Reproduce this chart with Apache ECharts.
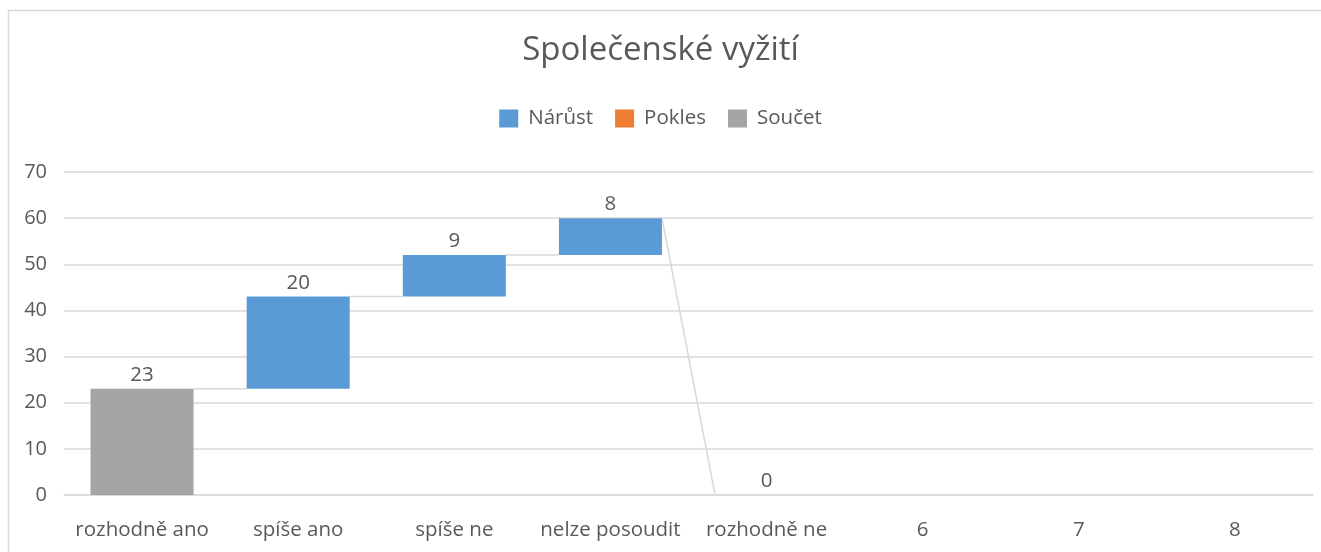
<html>
<head>
<meta charset="utf-8"/>
<title>Společenské vyžití</title>
<script src="https://cdn.jsdelivr.net/npm/echarts@6/dist/echarts.min.js"></script>
<style>
  body { margin: 0; background: #fff; overflow: hidden; }
  #main { width: 1321px; height: 552px; }
</style>
</head>
<body>
<div id="main"></div>
<script type="text/javascript">
// data
var categories = ['rozhodně ano', 'spíše ano', 'spíše ne', 'nelze posoudit', 'rozhodně ne', '6', '7', '8'];
var values = [23, 20, 9, 8, 0, null, null, null];
// 'total' = Součet, 'inc' = Nárůst, 'dec' = Pokles
var kinds = ['total', 'inc', 'inc', 'inc', 'total', null, null, null];

var textColor = '#595959';
var lineColor = '#D9D9D9';
var fontName = '"Open Sans", "Noto Sans", sans-serif';

// build the waterfall stacks from the values
var base = [], inc = [], dec = [], tot = [], tops = [], bottoms = [];
var running = 0;
for (var i = 0; i < values.length; i++) {
    var v = values[i], k = kinds[i];
    base.push('-'); inc.push('-'); dec.push('-'); tot.push('-');
    if (v === null) { tops.push(null); bottoms.push(null); continue; }
    if (k === 'total') {
        running = v;
        base[i] = 0; tot[i] = v;
        bottoms.push(0); tops.push(v);
    } else if (k === 'inc') {
        base[i] = running; inc[i] = v;
        bottoms.push(running); running += v; tops.push(running);
    } else {
        running -= v;
        base[i] = running; dec[i] = v;
        bottoms.push(running + v); tops.push(running);
    }
}
// connectors: from end level of bar i to start level of bar i+1
var connectors = [];
for (var j = 0; j < values.length - 1; j++) {
    if (tops[j] === null || tops[j + 1] === null) continue;
    var endLevel = kinds[j] === 'dec' ? bottoms[j] - values[j] : tops[j];
    var startLevel = bottoms[j + 1];
    connectors.push([j, endLevel, startLevel]);
}

var barRatio = 0.66;
var myChart = echarts.init(document.getElementById('main'));

var labelStyle = {
    show: true,
    position: 'top',
    color: textColor,
    fontSize: 20.5,
    fontFamily: fontName,
    distance: 3
};

var option = {
    animation: false,
    backgroundColor: '#fff',
    textStyle: { fontFamily: fontName },
    graphic: [{
        type: 'polyline',
        shape: { points: [[8.5, 560], [8.5, 10.5], [1330, 10.5]] },
        style: { fill: 'none', stroke: lineColor, lineWidth: 1.5 },
        silent: true,
        z: -10
    }],
    title: {
        text: 'Společenské vyžití',
        left: 'center',
        top: 29,
        textStyle: { color: textColor, fontSize: 33, fontWeight: 'normal', fontFamily: fontName }
    },
    legend: {
        top: 103,
        left: 'center',
        itemWidth: 19,
        itemHeight: 18,
        itemGap: 22,
        icon: 'rect',
        textStyle: { color: textColor, fontSize: 20.5, fontFamily: fontName, padding: [0, 0, 0, 5] },
        data: ['Nárůst', 'Pokles', 'Součet']
    },
    grid: { left: 64, right: 8, top: 172, bottom: 57, containLabel: false },
    xAxis: {
        type: 'category',
        data: categories,
        axisLine: { lineStyle: { color: lineColor, width: 1.5 } },
        axisTick: { show: false },
        axisLabel: { color: textColor, fontSize: 20.5, fontFamily: fontName, margin: 25, interval: 0 }
    },
    yAxis: {
        type: 'value',
        min: 0,
        max: 70,
        interval: 10,
        axisLine: { show: false },
        axisTick: { show: false },
        splitLine: { lineStyle: { color: lineColor, width: 1.5 } },
        axisLabel: { color: textColor, fontSize: 20, fontFamily: fontName, margin: 17 }
    },
    series: [
        {
            name: 'base',
            type: 'bar',
            stack: 'w',
            barWidth: (barRatio * 100) + '%',
            itemStyle: { color: 'transparent' },
            silent: true,
            data: base
        },
        {
            name: 'Nárůst',
            type: 'bar',
            stack: 'w',
            itemStyle: { color: '#5B9BD5' },
            label: labelStyle,
            data: inc
        },
        {
            name: 'Pokles',
            type: 'bar',
            stack: 'w',
            itemStyle: { color: '#ED7D31' },
            label: labelStyle,
            data: dec
        },
        {
            name: 'Součet',
            type: 'bar',
            stack: 'w',
            itemStyle: { color: '#A5A5A5' },
            label: labelStyle,
            data: tot
        },
        {
            name: 'connector',
            type: 'custom',
            silent: true,
            z: 1,
            data: connectors,
            renderItem: function (params, api) {
                var idx = api.value(0);
                var p1 = api.coord([idx, api.value(1)]);
                var p2 = api.coord([idx + 1, api.value(2)]);
                var half = api.size([1, 0])[0] * barRatio / 2;
                return {
                    type: 'line',
                    shape: { x1: p1[0] + half, y1: p1[1], x2: p2[0] - half, y2: p2[1] },
                    style: { stroke: lineColor, lineWidth: 1.5 }
                };
            }
        }
    ]
};
myChart.setOption(option);
</script>
</body>
</html>
